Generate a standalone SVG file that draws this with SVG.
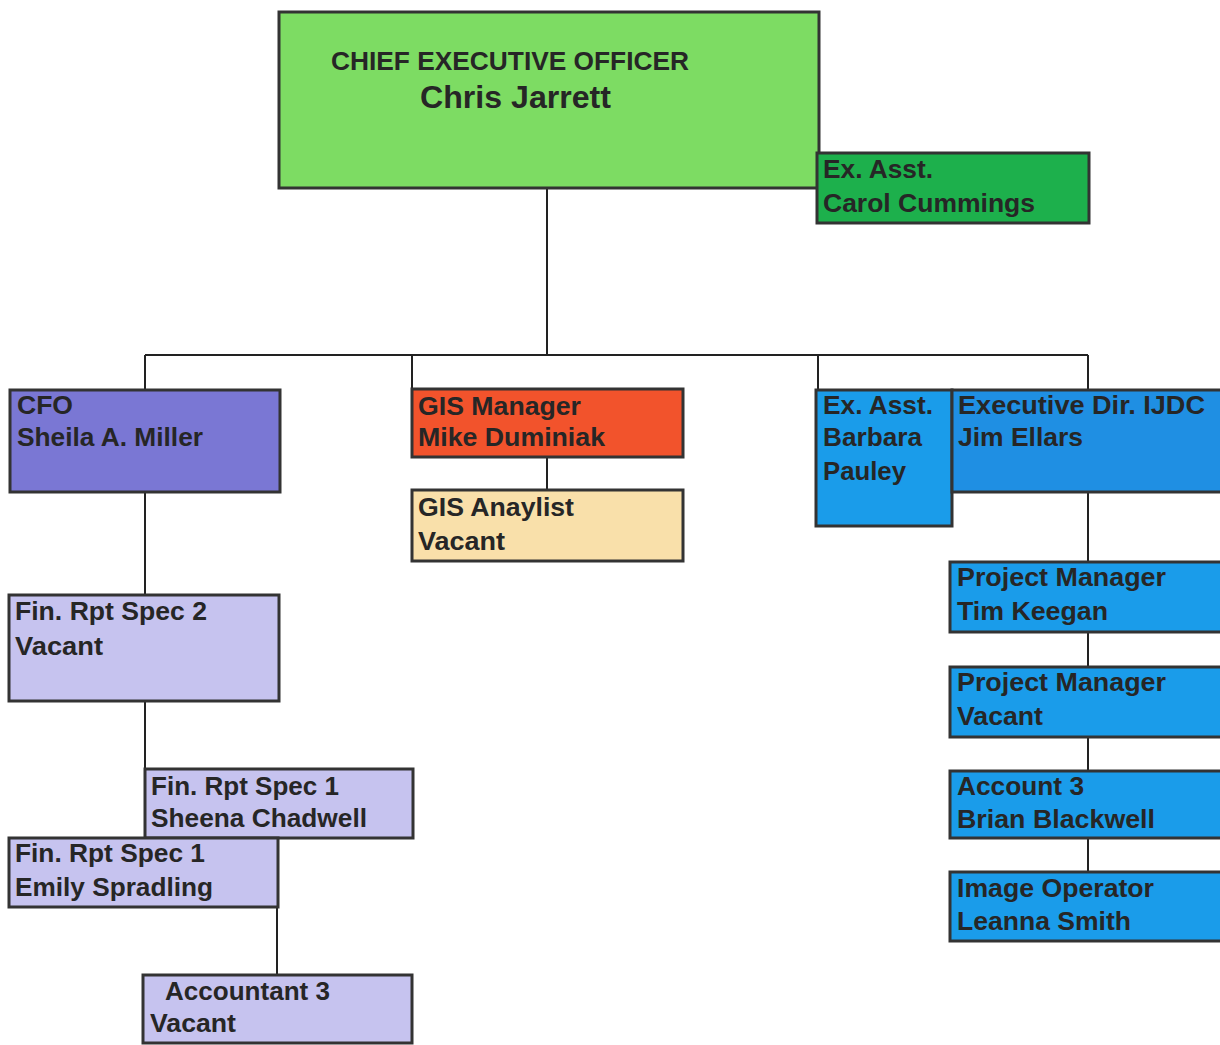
<svg xmlns="http://www.w3.org/2000/svg" width="1220" height="1045" viewBox="0 0 1220 1045">
<style>
.box{stroke:#333;stroke-width:3}
.t{font-family:"Liberation Sans",Arial,sans-serif;font-weight:bold;font-size:26px;fill:#262626}
.c{stroke:#222;stroke-width:2;fill:none}
</style>
<rect width="1220" height="1045" fill="#fff"/>
<g id="connectors">
<path class="c" d="M547 188V355M145 355H1088M145 355V390M412 355V390M818 355V390M1088 355V390"/>
<path class="c" d="M145 492V596M547 457V490M1088 492V562M1088 632V667M1088 737V771M1088 838V872M145 701V770M277 907V975"/>
</g>
<g id="ceo">
<rect class="box" x="279" y="12" width="540" height="176" fill="#7ddc63"/>
<text class="t" x="331" y="70" style="font-size:25px" textLength="358" lengthAdjust="spacingAndGlyphs">CHIEF EXECUTIVE OFFICER</text>
<text class="t" x="420" y="108" style="font-size:31px" textLength="191" lengthAdjust="spacingAndGlyphs">Chris Jarrett</text>
</g>
<g id="ex-asst-carol">
<rect class="box" x="817" y="153" width="272" height="70" fill="#1db04c"/>
<text class="t" x="823" y="178" textLength="110" lengthAdjust="spacingAndGlyphs">Ex. Asst.</text>
<text class="t" x="823" y="212" textLength="212" lengthAdjust="spacingAndGlyphs">Carol Cummings</text>
</g>
<g id="cfo">
<rect class="box" x="10" y="390" width="270" height="102" fill="#7a77d4"/>
<text class="t" x="17" y="414" textLength="56" lengthAdjust="spacingAndGlyphs">CFO</text>
<text class="t" x="17" y="446" textLength="186" lengthAdjust="spacingAndGlyphs">Sheila A. Miller</text>
</g>
<g id="gis-manager">
<rect class="box" x="412" y="389" width="271" height="68" fill="#f2532c"/>
<text class="t" x="418" y="415" textLength="163" lengthAdjust="spacingAndGlyphs">GIS Manager</text>
<text class="t" x="418" y="446" textLength="187" lengthAdjust="spacingAndGlyphs">Mike Duminiak</text>
</g>
<g id="gis-analyst">
<rect class="box" x="412" y="490" width="271" height="71" fill="#f9e0aa"/>
<text class="t" x="418" y="516" textLength="156" lengthAdjust="spacingAndGlyphs">GIS Anaylist</text>
<text class="t" x="418" y="550" textLength="87" lengthAdjust="spacingAndGlyphs">Vacant</text>
</g>
<g id="ex-asst-barbara">
<rect class="box" x="816" y="390" width="136" height="136" fill="#1a9cea"/>
<text class="t" x="823" y="414" textLength="110" lengthAdjust="spacingAndGlyphs">Ex. Asst.</text>
<text class="t" x="823" y="446" textLength="99" lengthAdjust="spacingAndGlyphs">Barbara</text>
<text class="t" x="823" y="480" textLength="83" lengthAdjust="spacingAndGlyphs">Pauley</text>
</g>
<g id="exec-dir">
<rect class="box" x="952" y="390" width="275" height="102" fill="#1f8fe3"/>
<text class="t" x="958" y="414" textLength="247" lengthAdjust="spacingAndGlyphs">Executive Dir. IJDC</text>
<text class="t" x="958" y="446" textLength="125" lengthAdjust="spacingAndGlyphs">Jim Ellars</text>
</g>
<g id="pm-tim">
<rect class="box" x="950" y="562" width="277" height="70" fill="#1a9cea"/>
<text class="t" x="957" y="586" textLength="209" lengthAdjust="spacingAndGlyphs">Project Manager</text>
<text class="t" x="957" y="620" textLength="151" lengthAdjust="spacingAndGlyphs">Tim Keegan</text>
</g>
<g id="pm-vacant">
<rect class="box" x="950" y="667" width="277" height="70" fill="#1a9cea"/>
<text class="t" x="957" y="691" textLength="209" lengthAdjust="spacingAndGlyphs">Project Manager</text>
<text class="t" x="957" y="725" textLength="86" lengthAdjust="spacingAndGlyphs">Vacant</text>
</g>
<g id="account3">
<rect class="box" x="950" y="771" width="277" height="67" fill="#1a9cea"/>
<text class="t" x="957" y="795" textLength="127" lengthAdjust="spacingAndGlyphs">Account 3</text>
<text class="t" x="957" y="828" textLength="198" lengthAdjust="spacingAndGlyphs">Brian Blackwell</text>
</g>
<g id="image-operator">
<rect class="box" x="950" y="872" width="277" height="69" fill="#1a9cea"/>
<text class="t" x="957" y="897" textLength="197" lengthAdjust="spacingAndGlyphs">Image Operator</text>
<text class="t" x="957" y="930" textLength="174" lengthAdjust="spacingAndGlyphs">Leanna Smith</text>
</g>
<g id="fin-rpt-spec-2">
<rect class="box" x="9" y="595" width="270" height="106" fill="#c6c3ef"/>
<text class="t" x="15" y="620" textLength="192" lengthAdjust="spacingAndGlyphs">Fin. Rpt Spec 2</text>
<text class="t" x="15" y="655" textLength="88" lengthAdjust="spacingAndGlyphs">Vacant</text>
</g>
<g id="fin-rpt-spec-1-sheena">
<rect class="box" x="145" y="769" width="268" height="69" fill="#c6c3ef"/>
<text class="t" x="151" y="795" textLength="188" lengthAdjust="spacingAndGlyphs">Fin. Rpt Spec 1</text>
<text class="t" x="151" y="827" textLength="216" lengthAdjust="spacingAndGlyphs">Sheena Chadwell</text>
</g>
<g id="fin-rpt-spec-1-emily">
<rect class="box" x="9" y="838" width="269" height="69" fill="#c6c3ef"/>
<text class="t" x="15" y="862" textLength="190" lengthAdjust="spacingAndGlyphs">Fin. Rpt Spec 1</text>
<text class="t" x="15" y="896" textLength="198" lengthAdjust="spacingAndGlyphs">Emily Spradling</text>
</g>
<g id="accountant3">
<rect class="box" x="143" y="975" width="269" height="68" fill="#c6c3ef"/>
<text class="t" x="165" y="1000" textLength="165" lengthAdjust="spacingAndGlyphs">Accountant 3</text>
<text class="t" x="150" y="1032" textLength="86" lengthAdjust="spacingAndGlyphs">Vacant</text>
</g>
</svg>
